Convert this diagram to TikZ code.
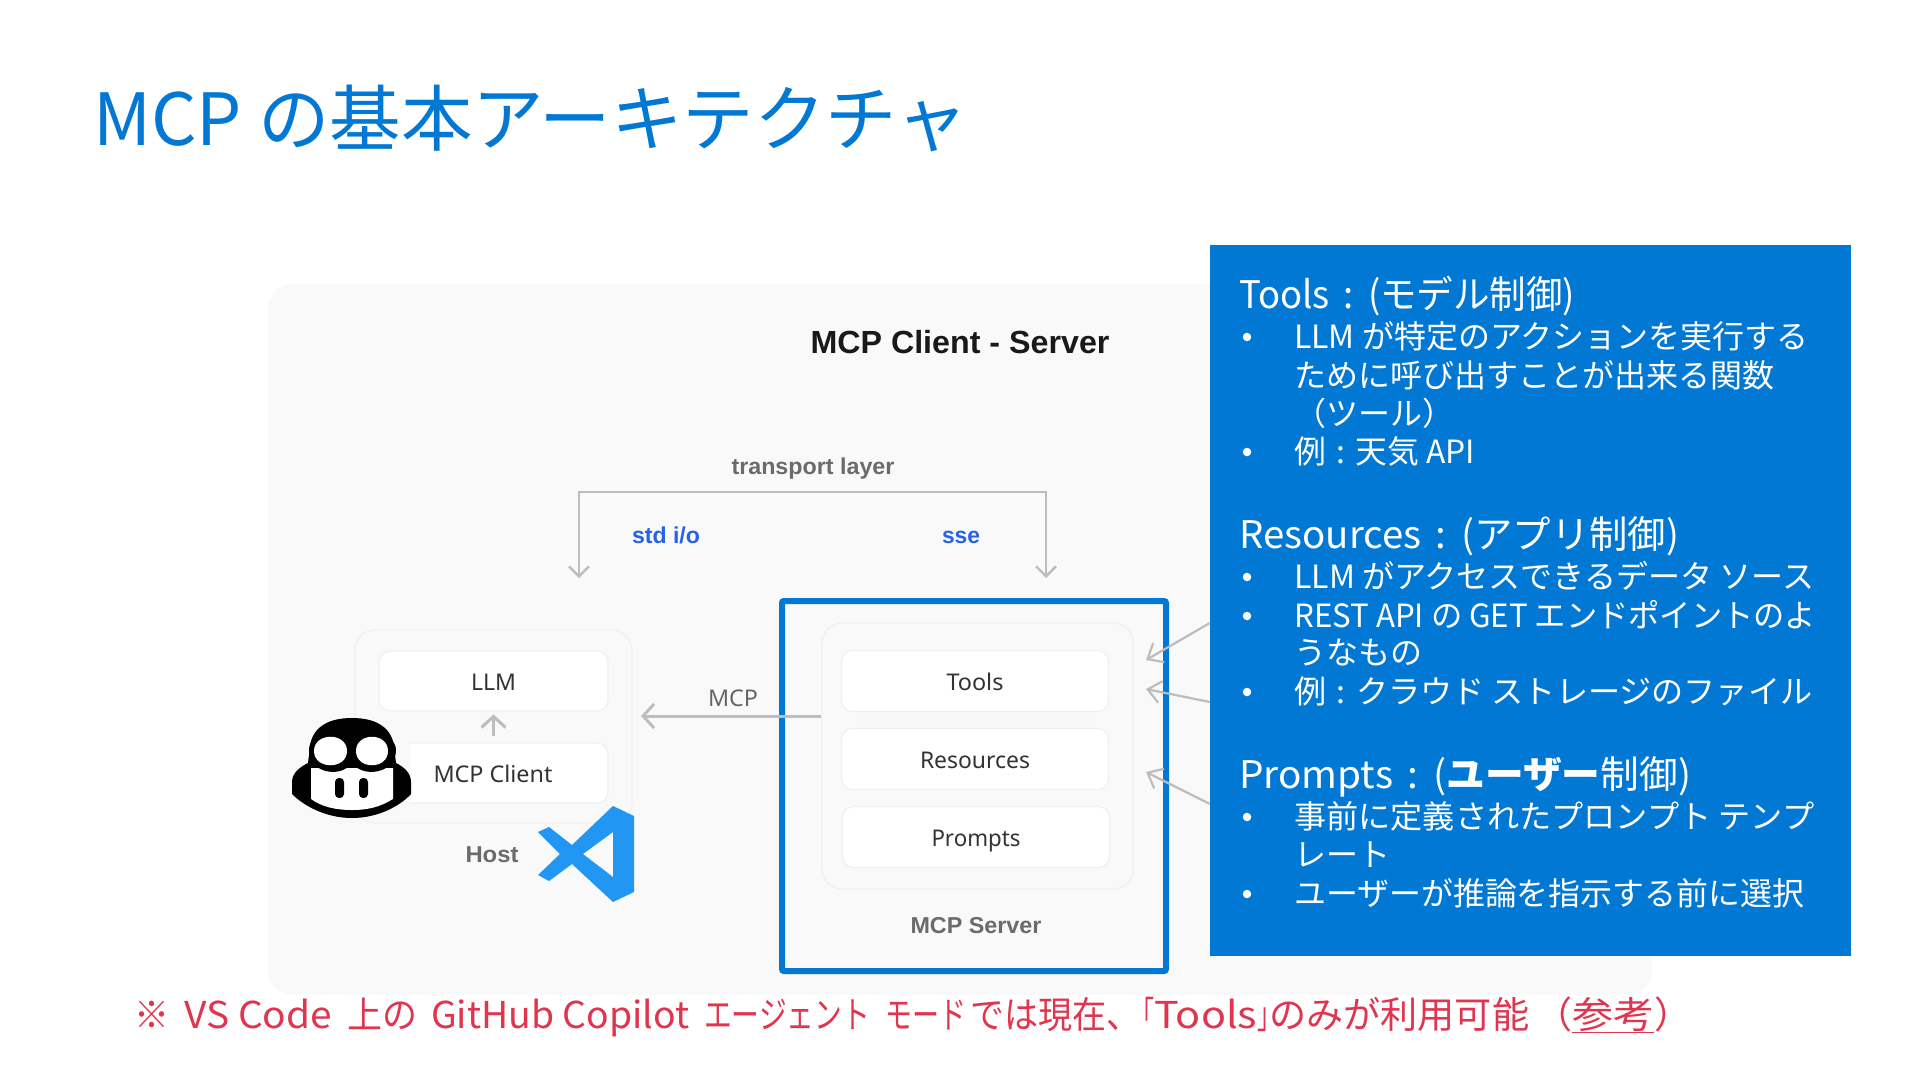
\documentclass[tikz,border=0pt]{standalone}
\usepackage{fontspec}
\usepackage{graphicx}
\setmainfont{Noto Sans CJK JP}
\newfontfamily\uifont{Noto Sans}
\newfontfamily\uibold{Liberation Sans}[BoldFont={Liberation Sans Bold}]
\usetikzlibrary{arrows.meta}
\definecolor{msblue}{HTML}{0078D4}
\definecolor{panelgrey}{HTML}{F9F9FA}
\definecolor{edgegrey}{HTML}{F0F0F1}
\definecolor{arrowgrey}{HTML}{BDBDBD}
\definecolor{labelgrey}{HTML}{6B6B6B}
\definecolor{stdblue}{HTML}{2563EB}
\definecolor{notered}{HTML}{E0354F}
\definecolor{codeblue}{HTML}{2196F3}
\newcommand{\fsz}[1]{\fontsize{#1}{#1}\selectfont}
\newcommand{\fitw}[2]{\resizebox{#1pt}{\height}{#2}}
\newcommand{\cln}{\hspace*{10.5pt}:\hspace*{10.5pt}}
\newcommand{\hcln}{\hspace*{14.5pt}:\hspace*{14.5pt}}
\tikzset{
  x=1pt,y=-1pt,
  titletext/.style={anchor=base west,inner sep=0pt,text=msblue,font=\fsz{72}},
  headtext/.style={anchor=base west,inner sep=0pt,text=white,font=\fsz{38}},
  bodytext/.style={anchor=base west,inner sep=0pt,text=white,font=\fsz{32}},
  bullettext/.style={anchor=center,inner sep=0pt,fill=white,circle,minimum size=8.5pt},
  notetext/.style={anchor=base west,inner sep=0pt,text=notered,font=\fsz{37}},
  boxlabel/.style={anchor=base,inner sep=0pt,text=black!80,font=\uifont\fsz{23}},
  caption/.style={anchor=base,inner sep=0pt,text=labelgrey,font=\uibold\bfseries\fsz{23}},
  innerbox/.style={draw=edgegrey,line width=1.2pt,fill=white,rounded corners=11pt,inner sep=0pt},
  groupbox/.style={draw=edgegrey,line width=1.2pt,rounded corners=20pt,inner sep=0pt},
  flow/.style={draw=arrowgrey,line width=2.4pt,-{Straight Barb[length=10pt,width=20pt,line width=2.4pt]}},
  sideflow/.style={draw=arrowgrey,line width=2.2pt,-{Straight Barb[length=13pt,width=22pt,line width=2.2pt]}},
  bigflow/.style={draw=arrowgrey,line width=3pt,-{Straight Barb[length=11pt,width=24pt,line width=3pt]}},
}
\begin{document}
\begin{tikzpicture}
\useasboundingbox (0,0) rectangle (1920,1080);
\fill[white] (0,0) rectangle (1920,1080);

% panel
\fill[panelgrey,rounded corners=25pt] (268,284) rectangle (1652,995);

% title
\node[titletext] (title) at (93,145) {\fitw{875}{MCP の基本アーキテクチャ}};
\node[anchor=base,inner sep=0pt,text=black!90,font=\uibold\bfseries\fsz{32}] (cstitle) at (960,353) {\fitw{299}{MCP Client - Server}};

% transport layer
\node[caption] (transport) at (813,474) {\fitw{163}{transport layer}};
\node[caption,text=stdblue] (stdio) at (666,543) {\fitw{68}{std i/o}};
\node[caption,text=stdblue] (sse) at (961,543) {\fitw{38}{sse}};

% host
\node[groupbox,minimum width=277pt,minimum height=193pt] (host) at (493.5,726.5) {};
\node[innerbox,minimum width=229pt,minimum height=60pt] (llm) at (493.5,681) {};
\node[boxlabel] (llmlabel) at (493.5,690) {\fitw{45}{LLM}};
\node[innerbox,minimum width=229pt,minimum height=60pt] (client) at (493.5,773) {};
\node[boxlabel] (clientlabel) at (493,782) {\fitw{119}{MCP Client}};
\node[caption] (hostlabel) at (492,862) {\fitw{53}{Host}};

% server
\node[groupbox,minimum width=311pt,minimum height=266pt] (server) at (977.5,756) {};
\node[innerbox,minimum width=267pt,minimum height=61pt] (tools) at (975,681) {};
\node[boxlabel] (toolslabel) at (975,690) {\fitw{57}{Tools}};
\node[innerbox,minimum width=267pt,minimum height=61pt] (resources) at (975,759) {};
\node[boxlabel] (resourceslabel) at (975,768) {\fitw{110}{Resources}};
\node[innerbox,minimum width=267pt,minimum height=61pt] (prompts) at (976,837) {};
\node[boxlabel] (promptslabel) at (976,846) {\fitw{89}{Prompts}};
\node[caption] (serverlabel) at (976,933) {\fitw{131}{MCP Server}};
\node[draw=msblue,line width=6pt,rounded corners=2pt,minimum width=384pt,minimum height=370pt,inner sep=0pt] (serverframe) at (974,786) {};

% blue box
\node[fill=msblue,minimum width=641pt,minimum height=711pt,inner sep=0pt] (bluebox) at (1530.5,600.5) {};

% connectors
\coordinate (stdend) at (579,578);
\coordinate (sseend) at (1046,578);
\coordinate (bracketL) at (579,492);
\coordinate (bracketR) at (1046,492);
\draw[flow] (bracketL) -- (stdend);
\draw[flow] (bracketR) -- (sseend);
\draw[draw=arrowgrey,line width=2.4pt,line cap=rect] (bracketL) -- (bracketR);
\draw[bigflow] (client.north) ++(0,-6) -- ++(0,-22);
\coordinate (mcpstart) at (server.west |- 0,716);
\coordinate (mcpend) at (641,716);
\draw[bigflow] (mcpstart) -- (mcpend);
\node[anchor=base,inner sep=0pt,text=black!60,font=\uifont\fsz{23}] (mcplabel) at (733,706) {\fitw{50}{MCP}};

\coordinate (a1s) at (bluebox.west |- 0,623);
\coordinate (a2s) at (bluebox.west |- 0,702);
\coordinate (a3s) at (bluebox.west |- 0,804);
\coordinate (a1e) at (1146,660);
\coordinate (a2e) at (1146,689);
\coordinate (a3e) at (1146,772);
\draw[sideflow] (a1s) -- (a1e);
\draw[sideflow] (a2s) -- (a2e);
\draw[sideflow] (a3s) -- (a3e);

% copilot icon
\fill[panelgrey] (292,718) rectangle (410,818);
\fill[black] (352,718) .. controls (382,718) and (395,732) .. (395,755) -- (396,763)
  .. controls (404,767) and (411,773) .. (411,782) -- (411,794)
  .. controls (400,806) and (378,818) .. (352,818)
  .. controls (326,818) and (304,806) .. (292,794) -- (292,782)
  .. controls (292,773) and (300,767) .. (308,763) -- (309,755)
  .. controls (309,732) and (322,718) .. (352,718) -- cycle;
\fill[white] (311,768) -- (393,768) -- (393,799)
  .. controls (380,807) and (368,810) .. (352,810)
  .. controls (336,810) and (322,807) .. (311,799) -- cycle;
\fill[black] (309,750) .. controls (309,730) and (350,730) .. (352,748)
  .. controls (354,730) and (396,730) .. (396,750)
  .. controls (396,775) and (360,778) .. (352,762)
  .. controls (344,778) and (309,775) .. (309,750) -- cycle;
\fill[white] (314,751) .. controls (314,732) and (347,732) .. (347,751)
  .. controls (347,770) and (314,770) .. (314,751) -- cycle;
\fill[white] (356,751) .. controls (356,732) and (388,732) .. (388,751)
  .. controls (388,770) and (356,770) .. (356,751) -- cycle;
\fill[black,rounded corners=4pt] (335,778) rectangle (344,798);
\fill[black,rounded corners=4pt] (359,778) rectangle (368,798);

% vscode icon
\fill[codeblue,even odd rule]
  (613,806) -- (634,816) -- (634,892) -- (613,902) -- (572,864) -- (549,881) -- (538,875)
  -- (560,854) -- (538,832) -- (549,827) -- (572,845) -- cycle
  (613,832) -- (583,854) -- (613,877) -- cycle;

% blue box text
\node[headtext] (h1) at (1239,308) {\fitw{336}{Tools\hcln(モデル制御)}};
\node[bullettext] (b1) at (1247,337) {};
\node[bodytext] (t1) at (1294,348) {\fitw{514}{LLM が特定のアクションを実行する}};
\node[bodytext] (t2) at (1294,387) {\fitw{480}{ために呼び出すことが出来る関数}};
\node[bodytext] (t3) at (1294,425) {（ツール）};
\node[bullettext] (b2) at (1247,452) {};
\node[bodytext] (t4) at (1294,463) {\fitw{181}{例\cln 天気 API}};

\node[headtext] (h2) at (1239,548) {\fitw{440}{Resources\hcln(アプリ制御)}};
\node[bullettext] (b3) at (1247,577) {};
\node[bodytext] (t5) at (1294,588) {\fitw{520}{LLM がアクセスできるデータ ソース}};
\node[bullettext] (b4) at (1247,616) {};
\node[bodytext] (t6) at (1294,627) {\fitw{522}{REST API の GET エンドポイントのよ}};
\node[bodytext] (t7) at (1294,664) {\fitw{128}{うなもの}};
\node[bullettext] (b5) at (1247,692) {};
\node[bodytext] (t8) at (1294,703) {\fitw{518}{例\cln クラウド ストレージのファイル}};

\node[headtext] (h3) at (1239,788) {\fitw{452}{Prompts\hcln(\bfseries ユーザー\mdseries 制御)}};
\node[bullettext] (b6) at (1247,817) {};
\node[bodytext] (t9) at (1294,828) {\fitw{520}{事前に定義されたプロンプト テンプ}};
\node[bodytext] (t10) at (1294,866) {\fitw{96}{レート}};
\node[bullettext] (b7) at (1247,894) {};
\node[bodytext] (t11) at (1294,905) {\fitw{510}{ユーザーが推論を指示する前に選択}};

% note
\node[notetext] (note) at (134,1028) {\fitw{35}{※}\hspace*{15pt}\fitw{148}{VS Code}\hspace*{15pt}\fitw{70}{上の}\hspace*{14pt}\fitw{258}{GitHub Copilot}\hspace*{15pt}\fitw{166}{エージェント}\hspace*{15pt}\fitw{81}{モード}\hspace*{4pt}\fitw{170}{では現在、}\hspace*{14pt}\makebox[0pt][r]{\fitw{24}{「}}\fitw{103}{Tools}\makebox[0pt][l]{\fitw{24}{」}}\hspace*{12pt}\fitw{260}{のみが利用可能}\hspace*{6pt}（\fitw{82}{\underline{参考}}）};
\end{tikzpicture}
\end{document}
